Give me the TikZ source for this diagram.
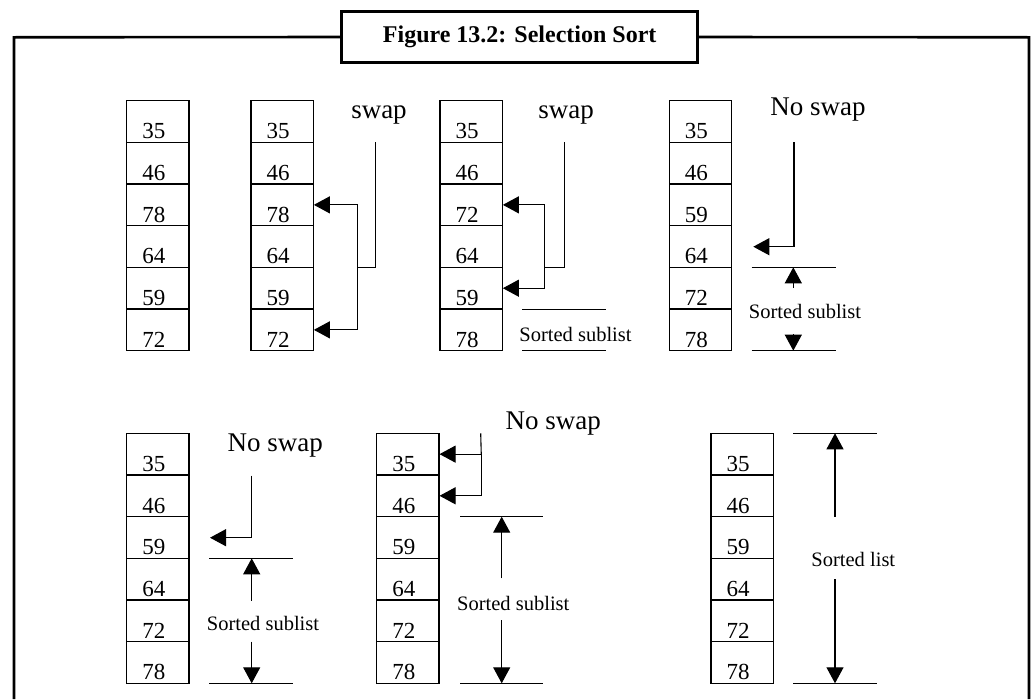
\documentclass[tikz,border=0pt]{standalone}
\usepackage{fontspec}
\setmainfont{Liberation Serif}
\usetikzlibrary{arrows.meta,calc}
\tikzset{
  cell/.style={draw, rectangle, minimum width=62.3pt, minimum height=41.67pt, inner sep=0pt, line width=1.1pt},
  num/.style={anchor=base west, inner sep=0pt, font=\fontsize{23}{23}\selectfont},
  lbl/.style={anchor=base, inner sep=0pt, font=\fontsize{27}{27}\selectfont},
  sub/.style={anchor=base, inner sep=0pt, font=\fontsize{20.5}{20.5}\selectfont},
  ln/.style={line width=1.1pt},
  arr/.style={ln, -{Triangle[length=16pt,width=17pt]}},
  arrs/.style={ln, {Triangle[length=16pt,width=17pt]}-{Triangle[length=16pt,width=17pt]}},
  frame/.style={line width=2.6pt},
}
\newcommand\listcol[4]{%
  \foreach \v [count=\i] in {#4} {
    \node[cell] (#1\i) at ({#2+31.15},{#3+20.833+41.667*(\i-1)}) {};
    \node[num] (#1n\i) at ([xshift=16pt,yshift=4pt]#1\i.south west) {\v};
  }}
\begin{document}
\begin{tikzpicture}[x=1pt,y=-1pt]
\useasboundingbox (0,0) rectangle (1033,699);
% title and frame
\node[draw, line width=2.8pt, minimum width=356pt, minimum height=50.6pt, inner sep=0pt,
      font=\fontsize{24}{24}\selectfont\bfseries] (title) at (519.7,37) {Figure 13.2: Selection Sort};
\coordinate (fbl) at (14,699);
\coordinate (ftl) at (14,37.3);
\coordinate (ftr) at (1029,37.3);
\coordinate (fbr) at (1029,699);
\draw[frame] (fbl) -- (ftl) -- (title.west);
\draw[frame] (title.east) -- (ftr) -- (fbr);
% columns
\listcol{a}{126.7}{100.7}{35,46,78,64,59,72}
\listcol{b}{251}{100.7}{35,46,78,64,59,72}
\listcol{c}{440}{100.7}{35,46,72,64,59,78}
\listcol{d}{669.3}{100.7}{35,46,59,64,72,78}
\listcol{e}{126.7}{433.3}{35,46,59,64,72,78}
\listcol{f}{376.7}{433.3}{35,46,59,64,72,78}
\listcol{g}{711}{433.3}{35,46,59,64,72,78}
% panel B
\node[lbl] (swb) at (379,118.3) {swap};
\coordinate (swbtop) at (375.3,142.3);
\coordinate (swbj) at (356.7,267.7);
\draw[arrs] (b3.east) -- ($(b3.east)+(43.4,0)$) |- (b6.east);
\draw[ln] (swbtop) |- (swbj);
% panel C
\node[lbl] (swc) at (566.2,118.3) {swap};
\coordinate (swctop) at (564.3,142.3);
\coordinate (swcj) at (543.6,267.7);
\draw[arrs] (c3.east) -- ($(c3.east)+(41.3,0)$) |- (c5.east);
\draw[ln] (swctop) |- (swcj);
\coordinate (c1l) at (522.3,309.3); \coordinate (c1r) at (605.7,309.3);
\coordinate (c2l) at (522.3,350.7); \coordinate (c2r) at (605.7,350.7);
\draw[ln] (c1l) -- (c1r);
\draw[ln] (c2l) -- (c2r);
\node[sub] (ssc) at (575.5,341) {Sorted sublist};
% panel D
\node[lbl] (nsd) at (818,115) {No swap};
\coordinate (dtop) at (794,142.3);
\coordinate (dtip) at (753.3,246.7);
\draw[arr] (dtop) |- (dtip);
\coordinate (d1l) at (751.7,267.3); \coordinate (d1r) at (836,267.3);
\coordinate (d2l) at (751.7,350.7); \coordinate (d2r) at (836,350.7);
\draw[ln] (d1l) -- (d1r);
\draw[ln] (d2l) -- (d2r);
\coordinate (dua) at (793.3,288); \coordinate (dut) at (793.3,267.3);
\coordinate (dda) at (793.3,334); \coordinate (ddt) at (793.3,350.7);
\draw[arr] (dua) -- (dut);
\draw[arr] (dda) -- (ddt);
\node[sub] (ssd) at (805,318) {Sorted sublist};
% panel E
\node[lbl] (nse) at (275.3,451.7) {No swap};
\coordinate (etop) at (251.7,475.7);
\coordinate (etip) at (210,537.7);
\draw[arr] (etop) |- (etip);
\coordinate (e1l) at (209,558.3); \coordinate (e1r) at (293.3,558.3);
\coordinate (e2l) at (209,683.3); \coordinate (e2r) at (293.3,683.3);
\draw[ln] (e1l) -- (e1r);
\draw[ln] (e2l) -- (e2r);
\coordinate (eua) at (251.7,600.7); \coordinate (eut) at (251.7,558.3);
\coordinate (eda) at (251.7,641.7); \coordinate (edt) at (251.7,683.3);
\draw[arr] (eua) -- (eut);
\draw[arr] (eda) -- (edt);
\node[sub] (sse) at (263,630) {Sorted sublist};
% panel F
\node[lbl] (nsf) at (553.3,429) {No swap};
\coordinate (ftop) at (480.7,433.3);
\draw[arrs] (f1.east) -- ($(f1.east)+(41.7,0)$) |- (f2.east);
\draw[ln] (ftop) -- ($(f1.east)+(41.7,0)$);
\coordinate (f1l) at (460,516.7); \coordinate (f1r) at (543.3,516.7);
\coordinate (f2l) at (460,683.3); \coordinate (f2r) at (543.3,683.3);
\draw[ln] (f1l) -- (f1r);
\draw[ln] (f2l) -- (f2r);
\coordinate (fua) at (501.7,578.3); \coordinate (fut) at (501.7,516.7);
\coordinate (fda) at (501.7,620); \coordinate (fdt) at (501.7,683.3);
\draw[arr] (fua) -- (fut);
\draw[arr] (fda) -- (fdt);
\node[sub] (ssf) at (513.3,610) {Sorted sublist};
% panel G
\coordinate (g1l) at (793.3,433.3); \coordinate (g1r) at (877.3,433.3);
\coordinate (g2l) at (793.3,683.3); \coordinate (g2r) at (877.3,683.3);
\draw[ln] (g1l) -- (g1r);
\draw[ln] (g2l) -- (g2r);
\coordinate (gua) at (835,516.7); \coordinate (gut) at (835,433.3);
\coordinate (gda) at (835,579); \coordinate (gdt) at (835,683.3);
\draw[arr] (gua) -- (gut);
\draw[arr] (gda) -- (gdt);
\node[sub] (ssg) at (853.3,566.7) {Sorted list};
\end{tikzpicture}
\end{document}
